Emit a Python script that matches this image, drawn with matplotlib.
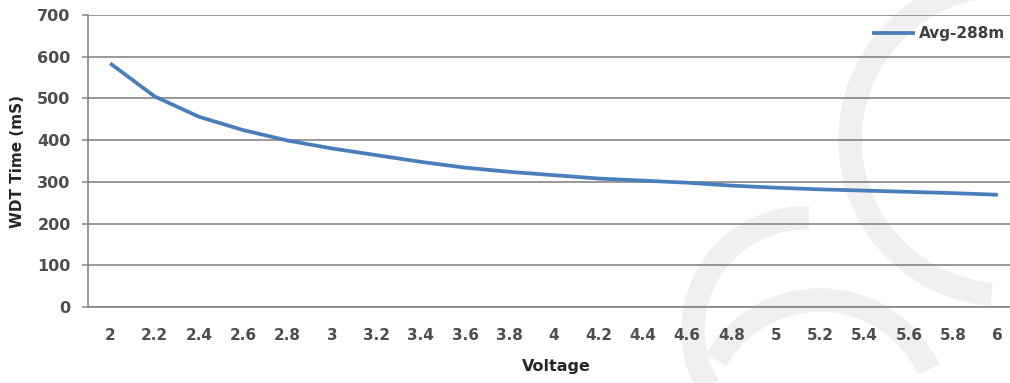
import numpy as np
import matplotlib
matplotlib.use("Agg")
import matplotlib.pyplot as plt
from matplotlib.patches import Arc

# data
voltage = ["2", "2.2", "2.4", "2.6", "2.8", "3", "3.2", "3.4", "3.6", "3.8", "4",
           "4.2", "4.4", "4.6", "4.8", "5", "5.2", "5.4", "5.6", "5.8", "6"]
wdt_avg = [584, 505, 456, 424, 399, 380, 364, 348, 334, 324, 316,
           308, 303, 298, 291, 286, 282, 279, 276, 273, 269]
series_name = "Avg-288m"
y_ticks = [0, 100, 200, 300, 400, 500, 600, 700]

W, H = 1010, 383
plt.rcParams['font.family'] = ['DejaVu Sans']

fig = plt.figure(figsize=(W / 100, H / 100), dpi=100)

# faint watermark behind the chart, drawn in pixel space
bg = fig.add_axes([0, 0, 1, 1], zorder=0)
bg.set_xlim(0, W)
bg.set_ylim(H, 0)
bg.axis('off')
wm = dict(color='#f0f0f0', lw=17, fill=False)
bg.add_patch(Arc((1005, 140), 310, 310, theta1=95, theta2=275, **wm))
bg.add_patch(Arc((805, 330), 224, 224, theta1=150, theta2=272, **wm))
bg.add_patch(Arc((820, 420), 240, 240, theta1=210, theta2=335, **wm))

ax = fig.add_axes([88 / W, 1 - 307 / H, 932 / W, 292 / H], zorder=1)
ax.patch.set_alpha(0)

x = np.arange(len(voltage))
ax.plot(x, wdt_avg, color='#4a7ebb', lw=2.7, solid_capstyle='butt',
        label=series_name, zorder=3)

ax.set_xlim(-0.5, len(voltage) - 0.5)
ax.set_ylim(0, 700)
ax.set_yticks(y_ticks)
ax.set_xticks(x)
ax.set_xticklabels(voltage)

ax.grid(axis='y', color='#868686', lw=1.2)
ax.set_axisbelow(True)
for s in ['top', 'right']:
    ax.spines[s].set_visible(False)
for s in ['left', 'bottom']:
    ax.spines[s].set_color('#868686')
    ax.spines[s].set_linewidth(1.2)

ax.tick_params(axis='y', length=4.5, width=1.1, color='#868686', pad=8,
               labelsize=11.5, labelcolor='#4d4d4d')
ax.tick_params(axis='x', length=0, pad=15, labelsize=11, labelcolor='#4d4d4d')
for lab in ax.get_xticklabels() + ax.get_yticklabels():
    lab.set_fontweight('bold')

ax.set_ylabel("WDT Time (mS)", fontsize=11, fontweight='bold', color='#262626')
ax.yaxis.set_label_coords(-63 / 932, 0.5)
ax.set_xlabel("Voltage", fontsize=11.5, fontweight='bold', color='#262626')
ax.xaxis.set_label_coords(466 / 932 + 0.003, -52 / 292)

leg = fig.legend(loc='upper left', bbox_to_anchor=(872 / W, 1 - 26 / H),
                 frameon=False, borderpad=0, borderaxespad=0,
                 handlelength=2.8, handletextpad=0.3,
                 prop={'size': 11, 'weight': 'bold'})
for t in leg.get_texts():
    t.set_color('#404040')

fig.savefig("out.png", dpi=100)
